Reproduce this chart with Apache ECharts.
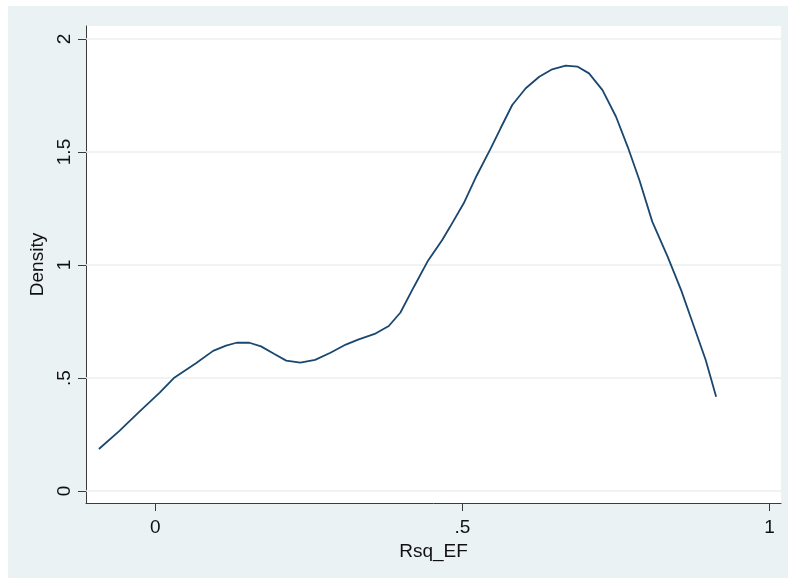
<!DOCTYPE html>
<html>
<head>
<meta charset="utf-8">
<script src="https://cdn.jsdelivr.net/npm/echarts@6/dist/echarts.min.js"></script>
<style>
html,body{margin:0;padding:0;background:#fff;}
#chart{width:788px;height:579px;}
</style>
</head>
<body>
<div id="chart"></div>
<script>
// Kernel density estimate of Rsq_EF
var xValues = [-0.092,-0.059,-0.026,0.007,0.030,0.066,0.094,0.115,0.132,0.153,0.172,0.193,0.213,0.236,0.260,0.285,0.310,0.330,0.357,0.380,0.399,0.421,0.443,0.467,0.480,0.502,0.523,0.546,0.562,0.581,0.603,0.625,0.646,0.668,0.687,0.706,0.728,0.750,0.769,0.788,0.809,0.834,0.856,0.877,0.896,0.913];
var densityValues = [0.186,0.265,0.351,0.435,0.500,0.565,0.620,0.643,0.656,0.656,0.640,0.607,0.577,0.568,0.580,0.612,0.648,0.670,0.695,0.730,0.790,0.904,1.015,1.111,1.170,1.273,1.395,1.516,1.605,1.708,1.782,1.833,1.866,1.882,1.878,1.848,1.774,1.656,1.523,1.376,1.192,1.037,0.889,0.727,0.580,0.417];
var xTickValues = [0, 0.5, 1];
var xTickLabels = ['0', '.5', '1'];
var yTickValues = [0, 0.5, 1, 1.5, 2];
var yTickLabels = ['0', '.5', '1', '1.5', '2'];
var xTitle = 'Rsq_EF';
var yTitle = 'Density';

var seriesData = xValues.map(function (x, i) { return [x, densityValues[i]]; });
function labelFor(values, labels) {
  return function (v) {
    for (var i = 0; i < values.length; i++) {
      if (Math.abs(values[i] - v) < 1e-9) return labels[i];
    }
    return '';
  };
}

var FONT = '"Liberation Sans", Arial, sans-serif';
var chart = echarts.init(document.getElementById('chart'), null, {renderer: 'canvas'});
chart.setOption({
  animation: false,
  backgroundColor: '#ffffff',
  graphic: [{
    type: 'rect', z: -10, silent: true,
    shape: {x: 8, y: 6, width: 780, height: 572},
    style: {fill: '#EAF2F3'}
  }],
  grid: {
    left: 86, top: 26, right: 7, bottom: 76,
    show: true, backgroundColor: '#ffffff', borderWidth: 0
  },
  xAxis: {
    type: 'value', min: -0.113, max: 1.0186,
    axisLine: {show: true, onZero: false, lineStyle: {color: '#3a3a3a', width: 1}},
    axisTick: {show: true, length: 8, customValues: xTickValues, lineStyle: {color: '#3a3a3a', width: 1}},
    axisLabel: {
      show: true, customValues: xTickValues, margin: 15,
      formatter: labelFor(xTickValues, xTickLabels),
      color: '#111', fontFamily: FONT, fontSize: 19
    },
    splitLine: {show: false},
    name: xTitle, nameLocation: 'middle', nameGap: 34,
    nameTextStyle: {color: '#111', fontFamily: FONT, fontSize: 19}
  },
  yAxis: {
    type: 'value', min: -0.053, max: 2.0575,
    axisLine: {show: true, onZero: false, lineStyle: {color: '#3a3a3a', width: 1}},
    axisTick: {show: true, length: 8, customValues: yTickValues, lineStyle: {color: '#3a3a3a', width: 1}},
    axisLabel: {
      show: true, customValues: yTickValues, margin: 12, rotate: 90,
      formatter: labelFor(yTickValues, yTickLabels),
      color: '#111', fontFamily: FONT, fontSize: 19
    },
    splitLine: {show: false},
    name: yTitle, nameLocation: 'middle', nameGap: 35, nameRotate: 90,
    nameTextStyle: {color: '#111', fontFamily: FONT, fontSize: 19}
  },
  series: [{
    type: 'line',
    data: seriesData,
    showSymbol: false, symbol: 'none', smooth: false,
    lineStyle: {color: '#1A476F', width: 1.8},
    z: 3,
    markLine: {
      silent: true, symbol: ['none', 'none'], animation: false,
      label: {show: false},
      lineStyle: {color: '#ECEFEF', width: 1.5, type: 'solid'},
      z: 1,
      data: yTickValues.map(function (v) { return {yAxis: v}; })
    }
  }]
});
</script>
</body>
</html>
